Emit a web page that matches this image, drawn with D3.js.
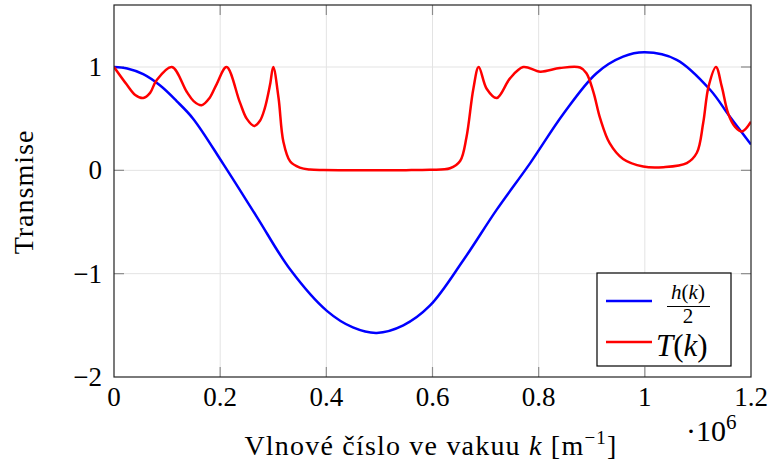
<!DOCTYPE html>
<html>
<head>
<meta charset="utf-8">
<script src="https://cdn.jsdelivr.net/npm/d3@7"></script>
<style>
  html, body { margin: 0; padding: 0; background: #fff; }
  svg text { font-family: "Liberation Serif", "DejaVu Serif", serif; fill: #000; }
</style>
</head>
<body>
<div id="chart"></div>
<script>
// wave number k in units of 1e6 m^-1
const blueK = [0, 0.025, 0.055, 0.087, 0.118, 0.149, 0.206, 0.269, 0.332, 0.401, 0.450, 0.495, 0.545, 0.595, 0.658, 0.721, 0.784, 0.847, 0.909, 0.959, 1.0, 1.060, 1.123, 1.160, 1.2];
const blueH = [1, 0.985, 0.93, 0.82, 0.67, 0.50, 0.06, -0.45, -0.96, -1.36, -1.52, -1.573, -1.50, -1.31, -0.87, -0.38, 0.07, 0.55, 0.94, 1.10, 1.142, 1.07, 0.78, 0.52, 0.25];

const redK = [0, 0.024, 0.040, 0.055, 0.068, 0.080, 0.109, 0.137, 0.150, 0.165, 0.180, 0.193, 0.212, 0.237, 0.250, 0.264, 0.275, 0.284, 0.294, 0.300, 0.310, 0.319, 0.332, 0.350, 0.369, 0.394, 0.45, 0.5, 0.55, 0.595, 0.633, 0.652, 0.664, 0.677, 0.687, 0.702, 0.721, 0.746, 0.771, 0.803, 0.840, 0.878, 0.890, 0.903, 0.916, 0.934, 0.959, 0.997, 1.035, 1.079, 1.098, 1.110, 1.120, 1.134, 1.145, 1.157, 1.170, 1.183, 1.2];
const redT = [1, 0.83, 0.73, 0.70, 0.75, 0.87, 1.0, 0.76, 0.67, 0.63, 0.70, 0.83, 1.0, 0.66, 0.50, 0.43, 0.48, 0.60, 0.83, 1.0, 0.70, 0.28, 0.085, 0.027, 0.008, 0.003, 0.001, 0.001, 0.002, 0.006, 0.02, 0.09, 0.32, 0.79, 1.0, 0.79, 0.70, 0.89, 1.0, 0.955, 0.99, 0.995, 0.94, 0.76, 0.50, 0.26, 0.11, 0.037, 0.031, 0.07, 0.17, 0.46, 0.81, 1.0, 0.81, 0.55, 0.42, 0.375, 0.47];

const xTicks = [0, 0.2, 0.4, 0.6, 0.8, 1, 1.2];
const yTicks = [-2, -1, 0, 1];

const W = 769, H = 466;
const mLeft = 114, mRight = 751, mTop = 5, mBottom = 377;

const svg = d3.select("#chart").append("svg")
  .attr("width", W)
  .attr("height", H);

const x = d3.scaleLinear().domain([0, 1.2]).range([mLeft, mRight]);
const y = d3.scaleLinear().domain([-2, 1.6]).range([mBottom, mTop]);

// grid
svg.append("g").selectAll("line")
  .data(xTicks.slice(1, -1))
  .join("line")
  .attr("x1", d => x(d)).attr("x2", d => x(d))
  .attr("y1", mTop).attr("y2", mBottom)
  .style("stroke", "#e3e3e3").style("stroke-width", 1);
svg.append("g").selectAll("line")
  .data(yTicks.slice(1))
  .join("line")
  .attr("x1", mLeft).attr("x2", mRight)
  .attr("y1", d => y(d)).attr("y2", d => y(d))
  .style("stroke", "#e3e3e3").style("stroke-width", 1);

// inward ticks on all four sides
const tickLen = 10;
const tickStyle = g => g.style("stroke", "#8c8c8c").style("stroke-width", 1.2);
svg.append("g").selectAll("line").data(xTicks.slice(1, -1)).join("line")
  .attr("x1", d => x(d)).attr("x2", d => x(d)).attr("y1", mBottom).attr("y2", mBottom - tickLen)
  .call(tickStyle);
svg.append("g").selectAll("line").data(xTicks.slice(1, -1)).join("line")
  .attr("x1", d => x(d)).attr("x2", d => x(d)).attr("y1", mTop).attr("y2", mTop + tickLen)
  .call(tickStyle);
svg.append("g").selectAll("line").data(yTicks.slice(1)).join("line")
  .attr("x1", mLeft).attr("x2", mLeft + tickLen).attr("y1", d => y(d)).attr("y2", d => y(d))
  .call(tickStyle);
svg.append("g").selectAll("line").data(yTicks.slice(1)).join("line")
  .attr("x1", mRight).attr("x2", mRight - tickLen).attr("y1", d => y(d)).attr("y2", d => y(d))
  .call(tickStyle);

// curves
const blueLine = d3.line()
  .x((d, i) => x(blueK[i]))
  .y(d => y(d))
  .curve(d3.curveCatmullRom.alpha(0.5));
const redLine = d3.line()
  .x((d, i) => x(redK[i]))
  .y(d => y(d))
  .curve(d3.curveCatmullRom.alpha(0.5));

svg.append("clipPath").attr("id", "clip")
  .append("rect").attr("x", mLeft).attr("y", mTop).attr("width", mRight - mLeft).attr("height", mBottom - mTop);

svg.append("path")
  .attr("d", blueLine(blueH))
  .attr("clip-path", "url(#clip)")
  .style("fill", "none").style("stroke", "#0000ff").style("stroke-width", 2.5);
svg.append("path")
  .attr("d", redLine(redT))
  .attr("clip-path", "url(#clip)")
  .style("fill", "none").style("stroke", "#ff0000").style("stroke-width", 2.5);

// frame
svg.append("rect")
  .attr("x", mLeft).attr("y", mTop).attr("width", mRight - mLeft).attr("height", mBottom - mTop)
  .style("fill", "none").style("stroke", "#222").style("stroke-width", 1.2);

// tick labels
const fmtX = d => d === 0 ? "0" : (d === 1 ? "1" : d3.format(".1f")(d));
svg.append("g").selectAll("text").data(xTicks).join("text")
  .attr("x", d => x(d)).attr("y", 406)
  .attr("text-anchor", "middle")
  .style("font-size", "27px")
  .text(fmtX);
svg.append("g").selectAll("text").data(yTicks).join("text")
  .attr("x", 102).attr("y", d => y(d) + 9)
  .attr("text-anchor", "end")
  .style("font-size", "27px")
  .text(d => d < 0 ? "\u2212" + Math.abs(d) : String(d));

// ·10^6
const mult = svg.append("text").attr("x", 686).attr("y", 441).style("font-size", "30px");
mult.append("tspan").text("\u00b710");
mult.append("tspan").attr("dy", -12).style("font-size", "21px").text("6");

// axis labels
const xl = svg.append("text")
  .attr("x", 431).attr("y", 455)
  .attr("text-anchor", "middle")
  .style("font-size", "28px")
  .style("letter-spacing", "1.2px");
xl.append("tspan").text("Vlnové číslo ve vakuu ");
xl.append("tspan").style("font-style", "italic").text("k");
xl.append("tspan").text(" [m");
xl.append("tspan").attr("dy", -11).style("font-size", "19px").text("\u22121");
xl.append("tspan").attr("dy", 11).text("]");

svg.append("text")
  .attr("transform", "translate(33,192) rotate(-90)")
  .attr("text-anchor", "middle")
  .style("font-size", "28px")
  .style("letter-spacing", "1px")
  .text("Transmise");

// legend
const lg = svg.append("g");
lg.append("rect")
  .attr("x", 597).attr("y", 273).attr("width", 134).attr("height", 93)
  .style("fill", "#fff").style("stroke", "#000").style("stroke-width", 1.2);
lg.append("line").attr("x1", 606).attr("x2", 652).attr("y1", 301).attr("y2", 301)
  .style("stroke", "#0000ff").style("stroke-width", 2.5);
lg.append("line").attr("x1", 606).attr("x2", 652).attr("y1", 342).attr("y2", 342)
  .style("stroke", "#ff0000").style("stroke-width", 2.5);

const num = lg.append("text").attr("x", 688).attr("y", 299).attr("text-anchor", "middle").style("font-size", "21px");
num.append("tspan").style("font-style", "italic").text("h");
num.append("tspan").text("(");
num.append("tspan").style("font-style", "italic").text("k");
num.append("tspan").text(")");
lg.append("line").attr("x1", 667).attr("x2", 710).attr("y1", 306.5).attr("y2", 306.5)
  .style("stroke", "#000").style("stroke-width", 1);
lg.append("text").attr("x", 688).attr("y", 323).attr("text-anchor", "middle").style("font-size", "21px").text("2");

const tk = lg.append("text").attr("x", 656).attr("y", 356).style("font-size", "31px");
tk.append("tspan").style("font-style", "italic").text("T");
tk.append("tspan").text("(");
tk.append("tspan").style("font-style", "italic").text("k");
tk.append("tspan").text(")");
</script>
</body>
</html>
